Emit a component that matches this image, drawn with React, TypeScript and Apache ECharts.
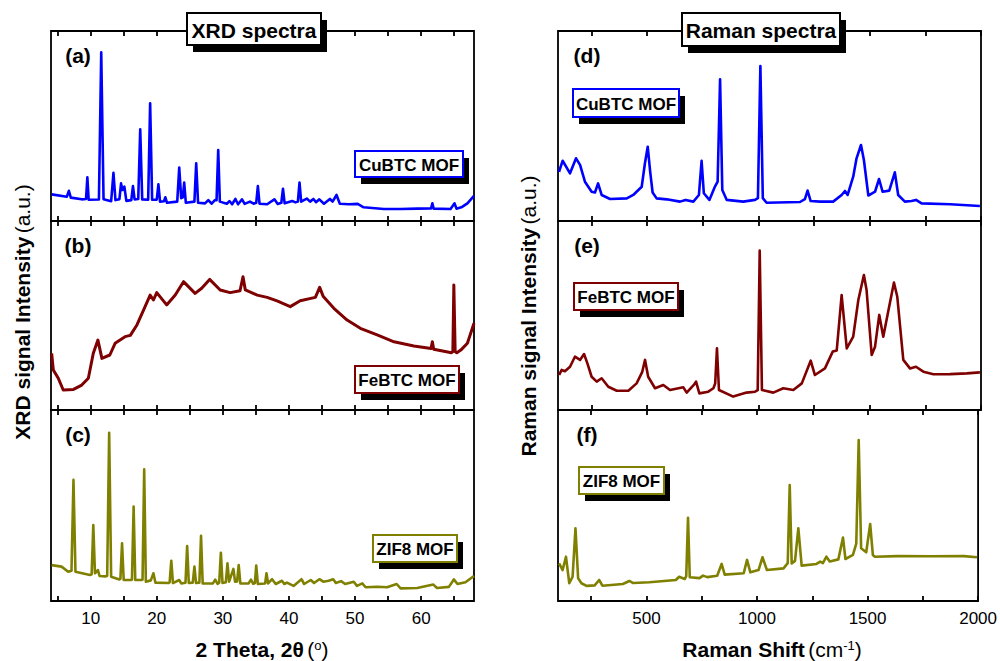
import React, { useEffect, useRef } from "react";
import * as echarts from "echarts";

// ---------- data ----------
const xrdTicks = [5, 10, 15, 20, 25, 30, 35, 40, 45, 50, 55, 60, 65];
const xrdLabels = [10, 20, 30, 40, 50, 60];
const ramanTicks = [250, 500, 750, 1000, 1250, 1500, 1750, 2000];
const ramanLabels = [500, 1000, 1500, 2000];

const xrdCuBTC: [number, number][] = [
  [4.1, 14.0], [6.4, 12.8], [6.7, 15.9], [7.0, 12.3], [8.65, 11.4], [9.3, 11.6], [9.5, 23.0], [9.7, 11.2], [11.25, 11.3],
  [11.6, 88.8], [11.95, 11.5], [13.1, 10.4], [13.45, 25.4], [13.75, 11.0], [14.35, 11.5], [14.6, 19.8], [14.8, 16.3], [15.1, 18.1],
  [15.4, 10.6], [16.15, 11.0], [16.4, 18.4], [16.65, 11.4], [17.2, 11.6], [17.5, 48.2], [17.8, 11.4], [18.7, 11.2], [19.0, 61.9], [19.3, 11.2],
  [20.0, 11.2], [20.25, 19.3], [20.5, 10.2], [21.1, 10.4], [21.3, 12.5], [21.55, 9.6], [23.1, 10.2], [23.4, 28.1], [23.7, 12.0], [23.95, 12.5], [24.15, 20.2],
  [24.4, 9.6], [25.7, 10.2], [25.97, 30.4], [26.25, 9.6], [27.3, 9.3], [27.8, 11.0], [28.3, 9.1], [28.8, 11.0],
  [29.05, 11.0], [29.3, 37.4], [29.55, 10.2], [30.6, 9.1], [31.0, 10.5], [31.4, 8.8], [31.9, 11.6], [32.3, 8.8], [32.9, 11.4],
  [33.3, 9.0], [34.1, 10.2], [34.65, 9.1], [35.05, 9.6], [35.3, 18.4], [35.55, 9.1], [36.7, 8.8], [37.8, 11.4], [38.3, 9.0],
  [38.85, 9.6], [39.1, 17.0], [39.35, 9.3], [40.5, 10.5], [41.0, 9.8], [41.35, 10.2], [41.6, 20.2], [41.85, 10.2], [42.7, 11.8], [43.2, 10.2],
  [43.7, 11.6], [44.1, 9.9], [44.6, 11.4], [45.3, 9.1], [46.2, 11.6], [46.6, 10.2], [47.2, 13.7], [47.7, 9.1],
  [49.05, 8.8], [50.4, 9.0], [51.3, 7.2], [54.35, 6.3], [56.9, 6.3], [59.4, 6.5], [61.5, 6.6], [61.7, 9.3], [61.9, 6.5],
  [64.45, 6.3], [65.06, 9.3], [65.35, 6.5], [66.2, 7.4], [67.0, 9.3], [68.0, 13.2],
];

const xrdFeBTC: [number, number][] = [
  [4.1, 30.0], [4.35, 21.2], [5.1, 16.8], [5.85, 10.6], [7.4, 10.9], [8.65, 13.2], [9.65, 16.8], [10.4, 30.0],
  [11.1, 37.0], [11.7, 27.3], [12.9, 29.1], [13.7, 35.3], [15.2, 38.8], [16.0, 39.5], [17.0, 45.0], [18.0, 52.9],
  [19.0, 60.8], [19.5, 58.2], [20.0, 62.1], [21.5, 55.6], [22.8, 60.8], [24.05, 67.9], [25.8, 61.7], [26.8, 64.4],
  [28.0, 69.1], [29.6, 63.5], [31.1, 62.1], [32.6, 63.1], [33.05, 70.5], [33.4, 63.5], [35.2, 60.8], [36.7, 59.6],
  [38.2, 57.7], [40.2, 54.7], [41.7, 57.8], [44.0, 59.6], [44.65, 64.9], [45.2, 60.0], [46.8, 53.8], [48.8, 47.6],
  [50.8, 43.2], [53.35, 39.7], [55.9, 36.1], [58.9, 33.9], [61.5, 32.5], [61.7, 36.1], [61.9, 32.1], [64.6, 30.3],
  [64.8, 31.0], [64.95, 66.1], [65.15, 30.8], [65.4, 30.3], [66.0, 31.7], [67.0, 35.3], [68.0, 45.9],
];

const xrdZIF8: [number, number][] = [
  [4.1, 18.8], [5.6, 18.0], [6.6, 15.3], [7.1, 15.8], [7.4, 63.4], [7.7, 15.3], [9.9, 13.6], [10.15, 14.0], [10.4, 39.8], [10.65, 14.5],
  [11.1, 16.2], [11.35, 13.1], [12.3, 12.9], [12.5, 13.2], [12.8, 88.1], [13.1, 12.7], [14.35, 11.3], [14.5, 11.6], [14.75, 30.2], [15.0, 11.0],
  [16.1, 11.0], [16.25, 11.2], [16.5, 49.4], [16.75, 11.0], [17.7, 11.0], [17.85, 11.2], [18.1, 68.9], [18.35, 10.1], [19.1, 10.8], [19.5, 14.5],
  [19.8, 9.6], [21.8, 9.4], [21.95, 9.8], [22.2, 21.1], [22.45, 9.4], [23.4, 11.0], [23.7, 9.2], [24.35, 9.6], [24.6, 28.8], [24.85, 9.4],
  [25.45, 9.6], [25.7, 18.0], [25.95, 9.4], [26.45, 9.6], [26.7, 34.2], [26.95, 9.2], [28.5, 9.2], [28.85, 11.2], [29.2, 9.0], [29.45, 9.6], [29.7, 25.3],
  [29.95, 9.4], [30.45, 9.8], [30.7, 19.7], [30.95, 10.1], [31.6, 16.8], [31.85, 10.1], [32.15, 10.2], [32.4, 18.8], [32.65, 9.2], [33.9, 9.2],
  [34.25, 11.2], [34.6, 9.0], [34.85, 9.4], [35.05, 18.5], [35.3, 8.9], [36.4, 9.2], [36.6, 14.5], [36.85, 9.2], [37.45, 11.4], [38.0, 8.9],
  [38.95, 10.6], [39.3, 8.9], [39.7, 9.6], [40.7, 7.9], [41.9, 11.4], [42.3, 8.9], [43.3, 11.0], [43.8, 9.4],
  [44.6, 11.4], [45.2, 10.1], [46.0, 10.6], [46.7, 11.4], [47.1, 9.4], [47.9, 10.4], [48.5, 8.9], [49.8, 10.1],
  [50.3, 7.9], [51.1, 9.2], [51.6, 7.2], [53.4, 7.5], [54.85, 7.2], [56.3, 8.9], [56.9, 6.6], [59.4, 6.8],
  [61.85, 8.6], [62.4, 6.8], [64.2, 7.4], [64.95, 11.3], [65.5, 8.9], [66.7, 9.8], [68.0, 13.1],
];

const ramanCuBTC: [number, number][] = [
  [104.5, 25.9], [121, 31.7], [154, 25.1], [181, 33.0], [199, 29.5], [221, 20.7], [251, 15.4], [266, 15.0],
  [280, 19.8], [296, 13.7], [334, 11.6], [409, 11.9], [438, 13.7], [453, 15.4], [476, 18.0], [490, 30.0], [503, 39.1],
  [514, 26.0], [525, 15.0], [543, 11.9], [588, 11.4], [648, 10.2], [673, 11.1], [708, 10.2], [733, 13.7], [745, 31.7],
  [755, 14.6], [780, 11.1], [805, 18.1], [817, 20.7], [828, 74.6], [838, 16.3], [858, 11.1], [932, 10.2],
  [985, 11.1], [998, 12.0], [1009, 81.6], [1020, 12.0], [1037, 9.6], [1187, 10.0], [1209, 11.5], [1221, 16.0],
  [1235, 10.5], [1277, 10.2], [1336, 10.2], [1374, 13.7], [1389, 15.8], [1401, 13.7], [1426, 23.3], [1441, 33.0],
  [1461, 40.0], [1474, 32.1], [1494, 13.4], [1524, 15.4], [1542, 22.1], [1558, 15.4], [1588, 16.0], [1613, 25.6],
  [1628, 13.7], [1658, 10.2], [1688, 10.5], [1708, 11.1], [1733, 9.3], [1861, 8.8], [1995, 7.9],
];

const ramanFeBTC: [number, number][] = [
  [105, 18.5], [116.6, 21.2], [131, 20.5], [154, 22.9], [176, 28.2], [199, 26.5], [217, 29.6], [232, 24.7],
  [251, 17.6], [274, 15.0], [296, 16.8], [326, 12.3], [364, 10.2], [416, 10.2], [453, 14.1], [478, 20.0], [491, 26.5],
  [505, 17.6], [536, 11.5], [573, 13.2], [603, 10.6], [663, 12.0], [678, 9.2], [712, 13.6], [720, 15.0],
  [735, 8.8], [775, 9.7], [798, 11.5], [806, 14.0], [814, 32.6], [823, 10.6], [887, 7.1], [947, 9.2], [985, 9.7], [997, 10.5],
  [1006, 84.3], [1016, 10.6], [1067, 9.2], [1112, 11.5], [1157, 10.6], [1195, 14.1], [1235, 26.1], [1254, 18.5],
  [1299, 22.0], [1334, 30.9], [1352, 31.5], [1374, 60.8], [1397, 32.6], [1426, 38.8], [1449, 58.2], [1474, 71.4],
  [1486, 63.5], [1509, 29.1], [1524, 33.5], [1543, 50.3], [1561, 38.8], [1583, 52.0], [1609, 67.4], [1624, 59.9],
  [1651, 26.5], [1681, 22.0], [1708, 22.9], [1741, 20.3], [1786, 18.9], [1861, 19.0], [1936, 19.4], [1995, 19.9],
];

const ramanZIF8: [number, number][] = [
  [105, 19.7], [121, 16.2], [136, 23.2], [151, 9.3], [166, 12.7], [179, 38.1], [191, 11.9], [206, 9.3],
  [229, 7.9], [266, 8.2], [286, 11.0], [301, 8.0], [393, 8.9], [423, 10.5], [440, 9.4], [513, 9.8],
  [633, 11.0], [648, 12.7], [673, 11.5], [680, 13.0], [688, 43.6], [696, 12.4], [740, 12.0], [756, 13.3], [775, 12.5],
  [820, 13.2], [840, 19.4], [854, 13.8], [940, 14.5], [955, 21.5], [970, 15.0], [1007, 16.2], [1025, 22.9],
  [1045, 16.2], [1120, 17.1], [1139, 19.8], [1148, 60.7], [1157, 19.7], [1172, 21.0], [1187, 38.1], [1202, 18.5],
  [1269, 19.4], [1286, 20.6], [1298, 19.8], [1314, 23.2], [1329, 20.7], [1368, 21.8], [1389, 33.2], [1400, 22.0],
  [1434, 24.1], [1449, 30.0], [1460, 84.3], [1471, 27.6], [1494, 25.5], [1512, 40.3], [1524, 24.1], [1532, 23.2],
  [1636, 23.5], [1786, 23.4], [1936, 23.5], [1995, 22.9],
];

const sampleNames = ["CuBTC MOF", "FeBTC MOF", "ZIF8 MOF"];
const panelTags = ["(a)", "(b)", "(c)", "(d)", "(e)", "(f)"];

// ---------- layout / style ----------
const FONT = '"Liberation Sans", Arial, Helvetica, sans-serif';
const COLORS = ["#0000ff", "#7f0000", "#808000"];
const TOPS = [31, 221, 410];
const HEIGHTS = [190, 189, 191];
const LEFTS = [51, 558];
const WIDTH = 423;

function boxWithShadow(x: number, y: number, w: number, h: number, text: string, stroke: string, fontSize: number, dx = 6, dy = 7) {
  return [
    { type: "rect", z: 100, shape: { x: x + dx, y: y + dy, width: w, height: h }, style: { fill: "#000" } },
    { type: "rect", z: 101, shape: { x, y, width: w, height: h }, style: { fill: "#fff", stroke, lineWidth: 2 } },
    {
      type: "text", z: 102, x: x + w / 2, y: y + h / 2 + 1,
      style: { text, fill: "#000", fontSize, fontWeight: "bold", fontFamily: FONT, align: "center", verticalAlign: "middle" },
    },
  ];
}

export default function App() {
  const ref = useRef<HTMLDivElement>(null);

  useEffect(() => {
    if (!ref.current) return;
    const chart = echarts.init(ref.current, undefined, { renderer: "svg" });

    const grids: any[] = [];
    const xAxes: any[] = [];
    const yAxes: any[] = [];
    const series: any[] = [];
    const datasets = [
      [xrdCuBTC, xrdFeBTC, xrdZIF8],
      [ramanCuBTC, ramanFeBTC, ramanZIF8],
    ];

    for (let col = 0; col < 2; col++) {
      for (let row = 0; row < 3; row++) {
        const gi = col * 3 + row;
        grids.push({
          left: LEFTS[col], top: TOPS[row], width: WIDTH, height: HEIGHTS[row],
          show: true, borderColor: "#000", borderWidth: 1.8, backgroundColor: "transparent",
        });
        const isX = col === 0;
        const tickVals = isX ? xrdTicks : ramanTicks;
        const labelVals = isX ? xrdLabels : ramanLabels;
        const base = {
          gridIndex: gi, type: "value",
          min: isX ? 4 : 100, max: isX ? 68 : 2000,
          axisLine: { show: false },
          splitLine: { show: false },
          axisTick: { show: true, inside: true, length: 5, customValues: tickVals, lineStyle: { color: "#000", width: 1.8 } },
        };
        xAxes.push({
          ...base, position: "bottom",
          axisLabel: {
            show: row === 2, customValues: labelVals, color: "#000", fontSize: 17, fontFamily: FONT, margin: 9,
            formatter: (v: number) => String(v),
          },
        });
        xAxes.push({ ...base, position: "top", axisLabel: { show: false } });
        yAxes.push({
          gridIndex: gi, type: "value", min: 0, max: 100,
          axisLine: { show: false }, axisTick: { show: false }, axisLabel: { show: false }, splitLine: { show: false },
        });
        series.push({
          type: "line", xAxisIndex: gi * 2, yAxisIndex: gi,
          data: datasets[col][row], showSymbol: false, symbol: "none",
          lineStyle: { color: COLORS[row], width: row === 1 && col === 0 ? 3 : 2.6, join: "round" },
          itemStyle: { color: COLORS[row] },
          silent: true,
        });
      }
    }

    const legendBoxes = [
      [355, 151, 108, 26], [355, 366, 104, 27], [373, 535, 84, 27],
      [573, 89, 106, 28], [574, 283, 104, 27], [579, 467, 85, 27],
    ];
    const tagPos = [
      [78, 55], [78, 245], [78, 434], [587, 55], [587, 245], [587, 434],
    ];

    const graphic: any[] = [];
    graphic.push(...boxWithShadow(187, 13, 134, 32, "XRD spectra", "#000", 21));
    graphic.push(...boxWithShadow(682, 13, 158, 33, "Raman spectra", "#000", 21));
    legendBoxes.forEach((b, i) => {
      graphic.push(...boxWithShadow(b[0], b[1], b[2], b[3], sampleNames[i % 3], COLORS[i % 3], 17));
    });
    tagPos.forEach((p, i) => {
      graphic.push({
        type: "text", z: 102, x: p[0], y: p[1],
        style: { text: panelTags[i], fill: "#000", fontSize: 21, fontWeight: "bold", fontFamily: FONT, align: "center", verticalAlign: "middle" },
      });
    });
    const rich = {
      b: { fontSize: 21, fontWeight: "bold", fontFamily: FONT, fill: "#000", color: "#000" },
      n: { fontSize: 21, fontWeight: "normal", fontFamily: FONT, fill: "#000", color: "#000" },
      s: { fontSize: 13, fontWeight: "normal", fontFamily: FONT, fill: "#000", color: "#000", verticalAlign: "top" },
    };
    graphic.push({
      type: "text", z: 102, x: 22, y: 312, rotation: Math.PI / 2,
      style: { text: "{b|XRD signal Intensity} {n|(a.u.)}", rich, align: "center", verticalAlign: "middle" },
    });
    graphic.push({
      type: "text", z: 102, x: 528, y: 316, rotation: Math.PI / 2,
      style: { text: "{b|Raman signal Intensity} {n|(a.u.)}", rich, align: "center", verticalAlign: "middle" },
    });
    graphic.push({
      type: "text", z: 102, x: 262, y: 649,
      style: { text: "{b|2 Theta, 2θ} {n|(}{s|o}{n|)}", rich, align: "center", verticalAlign: "middle" },
    });
    graphic.push({
      type: "text", z: 102, x: 772, y: 649,
      style: { text: "{b|Raman Shift} {n|(cm}{s|-1}{n|)}", rich, align: "center", verticalAlign: "middle" },
    });

    chart.setOption({
      animation: false,
      backgroundColor: "#fff",
      grid: grids,
      xAxis: xAxes,
      yAxis: yAxes,
      series,
      graphic,
    });

    return () => chart.dispose();
  }, []);

  return (
    <div
      ref={ref}
      style={{ position: "fixed", left: 0, top: 0, width: 1000, height: 661, background: "#fff" }}
    />
  );
}
